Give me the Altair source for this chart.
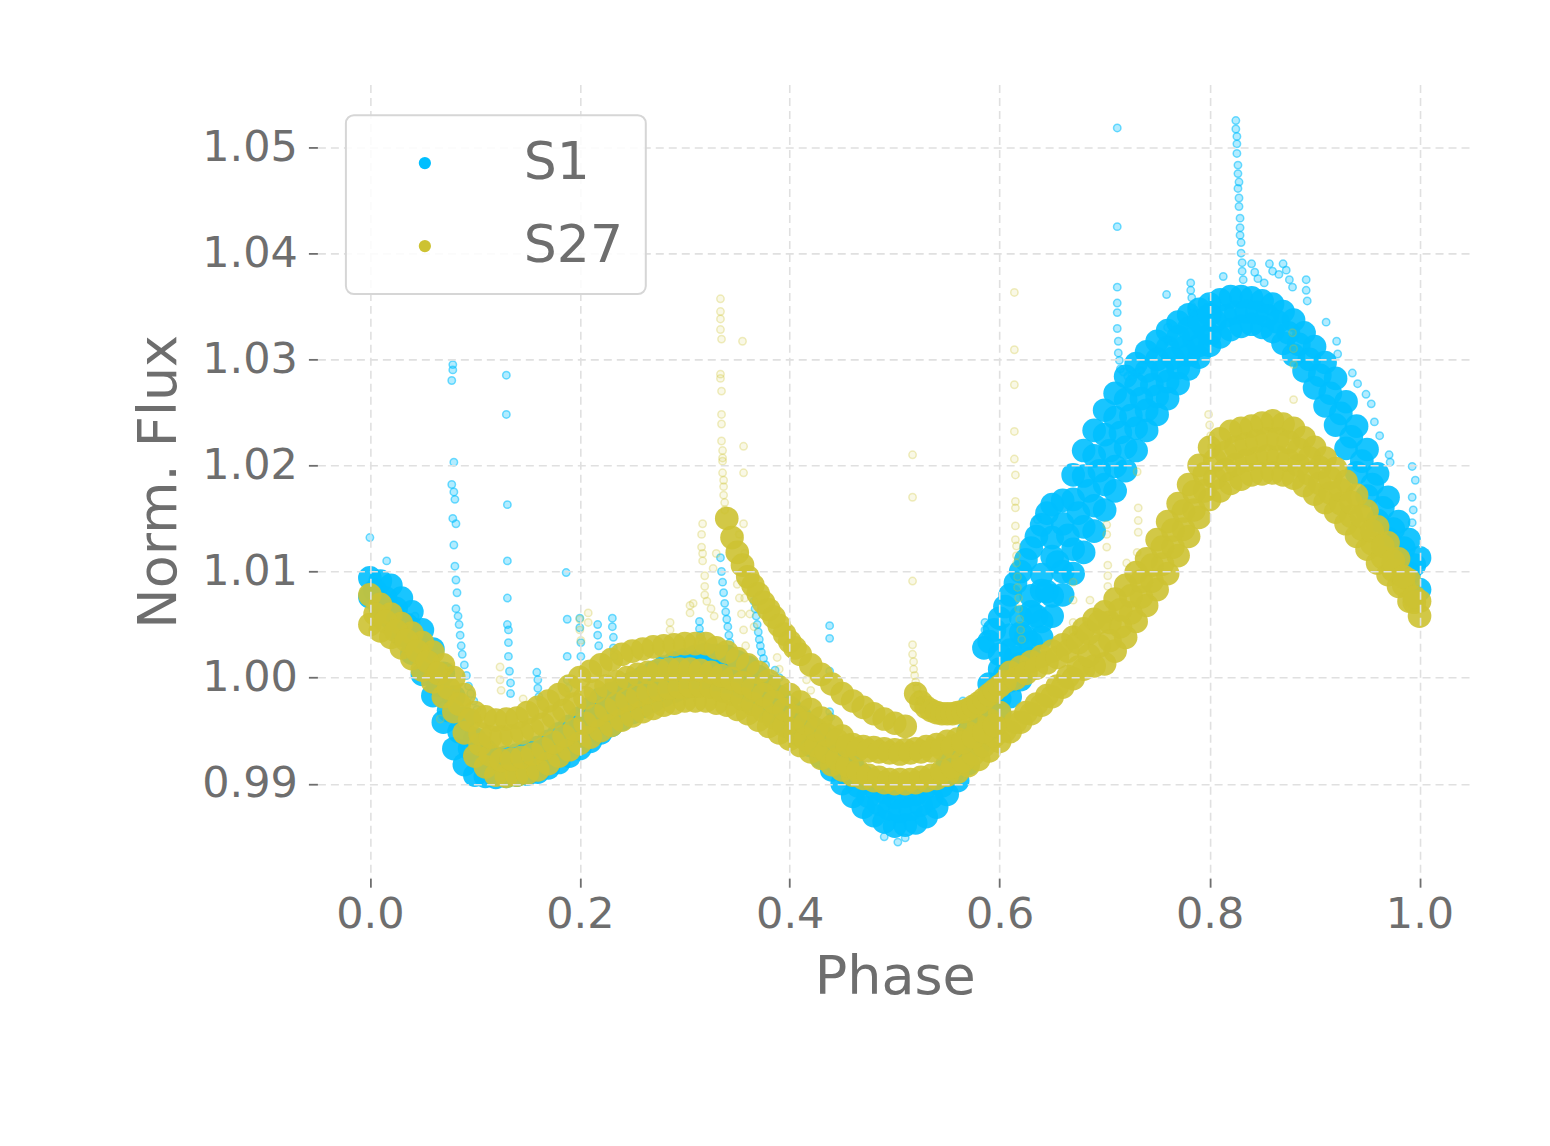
import altair as alt
import pandas as pd

# ---------------- phase sampling (typed) ----------------
grid = [0.00, 0.01, 0.02, 0.03, 0.04, 0.05, 0.06, 0.07, 0.08, 0.09,
        0.10, 0.11, 0.12, 0.13, 0.14, 0.15, 0.16, 0.17, 0.18, 0.19,
        0.20, 0.21, 0.22, 0.23, 0.24, 0.25, 0.26, 0.27, 0.28, 0.29,
        0.30, 0.31, 0.32, 0.33, 0.34, 0.35, 0.36, 0.37, 0.38, 0.39,
        0.40, 0.41, 0.42, 0.43, 0.44, 0.45, 0.46, 0.47, 0.48, 0.49,
        0.50, 0.51, 0.52, 0.53, 0.54, 0.55, 0.56, 0.57, 0.58, 0.59,
        0.60, 0.61, 0.62, 0.63, 0.64, 0.65, 0.66, 0.67, 0.68, 0.69,
        0.70, 0.71, 0.72, 0.73, 0.74, 0.75, 0.76, 0.77, 0.78, 0.79,
        0.80, 0.81, 0.82, 0.83, 0.84, 0.85, 0.86, 0.87, 0.88, 0.89,
        0.90, 0.91, 0.92, 0.93, 0.94, 0.95, 0.96, 0.97, 0.98, 0.99,
        1.00]
half = [0.005, 0.015, 0.025, 0.035, 0.045, 0.055, 0.065, 0.075, 0.085, 0.095,
        0.105, 0.115, 0.125, 0.135, 0.145, 0.155, 0.165, 0.175, 0.185, 0.195,
        0.205, 0.215, 0.225, 0.235, 0.245, 0.255, 0.265, 0.275, 0.285, 0.295,
        0.305, 0.315, 0.325, 0.335, 0.345, 0.355, 0.365, 0.375, 0.385, 0.395,
        0.405, 0.415, 0.425, 0.435, 0.445, 0.455, 0.465, 0.475, 0.485, 0.495,
        0.505, 0.515, 0.525, 0.535, 0.545, 0.555, 0.565, 0.575, 0.585, 0.595,
        0.605, 0.615, 0.625, 0.635, 0.645, 0.655, 0.665, 0.675, 0.685, 0.695,
        0.705, 0.715, 0.725, 0.735, 0.745, 0.755, 0.765, 0.775, 0.785, 0.795,
        0.805, 0.815, 0.825, 0.835, 0.845, 0.855, 0.865, 0.875, 0.885, 0.895,
        0.905, 0.915, 0.925, 0.935, 0.945, 0.955, 0.965, 0.975, 0.985, 0.995]

# ---------------- S1 dense band ----------------
s1_lo = [1.0076, 1.0066, 1.0056, 1.0040, 1.0023, 1.0003, 0.9983, 0.9958, 0.9933, 0.9918,
         0.9908, 0.9907, 0.9906, 0.9907, 0.9908, 0.9909, 0.9911, 0.9915, 0.9920, 0.9926,
         0.9933, 0.9940, 0.9948, 0.9955, 0.9961, 0.9967, 0.9973, 0.9978, 0.9983, 0.9987,
         0.9990, 0.9992, 0.9993, 0.9992, 0.9990, 0.9987, 0.9983, 0.9976, 0.9968, 0.9961,
         0.9953, 0.9945, 0.9936, 0.9925, 0.9913, 0.9900, 0.9888, 0.9878, 0.9870, 0.9864,
         0.9860, 0.9861, 0.9863, 0.9869, 0.9878, 0.9890, 0.9903, 0.9919, 0.9936, 0.9951,
         0.9966, 0.9982, 0.9998, 1.0018, 1.0038, 1.0058, 1.0078, 1.0098, 1.0118, 1.0138,
         1.0158, 1.0176, 1.0195, 1.0214, 1.0233, 1.0248, 1.0263, 1.0277, 1.0291, 1.0302,
         1.0313, 1.0321, 1.0328, 1.0331, 1.0333, 1.0330, 1.0326, 1.0315, 1.0304, 1.0289,
         1.0273, 1.0256, 1.0238, 1.0216, 1.0193, 1.0171, 1.0148, 1.0131, 1.0113, 1.0098,
         1.0083]
s1_hi = [1.0094, 1.0091, 1.0087, 1.0075, 1.0062, 1.0045, 1.0027, 1.0004, 0.9982, 0.9962,
         0.9942, 0.9932, 0.9924, 0.9925, 0.9927, 0.9930, 0.9934, 0.9940, 0.9947, 0.9954,
         0.9962, 0.9971, 0.9980, 0.9985, 0.9990, 0.9995, 1.0000, 1.0005, 1.0010, 1.0014,
         1.0017, 1.0020, 1.0022, 1.0021, 1.0020, 1.0015, 1.0010, 1.0001, 0.9992, 0.9982,
         0.9972, 0.9963, 0.9954, 0.9946, 0.9937, 0.9927, 0.9917, 0.9907, 0.9897, 0.9892,
         0.9887, 0.9888, 0.9890, 0.9897, 0.9904, 0.9918, 0.9932, 0.9949, 0.9967, 0.9994,
         1.0022, 1.0040, 1.0057, 1.0077, 1.0097, 1.0132, 1.0167, 1.0191, 1.0214, 1.0233,
         1.0252, 1.0268, 1.0284, 1.0296, 1.0307, 1.0317, 1.0327, 1.0335, 1.0342, 1.0347,
         1.0352, 1.0356, 1.0359, 1.0359, 1.0358, 1.0355, 1.0352, 1.0345, 1.0337, 1.0325,
         1.0312, 1.0297, 1.0282, 1.0260, 1.0237, 1.0215, 1.0192, 1.0170, 1.0147, 1.0130,
         1.0113]
s1_mid = [1.0082, 1.0075, 1.0065, 1.0050, 1.0033, 1.0015, 0.9993, 0.9969, 0.9949, 0.9933,
          0.9922, 0.9917, 0.9916, 0.9917, 0.9919, 0.9921, 0.9925, 0.9931, 0.9937, 0.9944,
          0.9952, 0.9960, 0.9967, 0.9973, 0.9978, 0.9984, 0.9989, 0.9994, 0.9999, 1.0002,
          1.0005, 1.0007, 1.0007, 1.0006, 1.0003, 0.9999, 0.9993, 0.9984, 0.9976, 0.9967,
          0.9958, 0.9950, 0.9940, 0.9930, 0.9919, 0.9908, 0.9898, 0.9888, 0.9881, 0.9876,
          0.9874, 0.9876, 0.9880, 0.9887, 0.9898, 0.9911, 0.9926, 0.9943, 0.9962, 0.9983,
          1.0003, 1.0019, 1.0038, 1.0058, 1.0081, 1.0109, 1.0134, 1.0155, 1.0176, 1.0195,
          1.0214, 1.0231, 1.0247, 1.0263, 1.0276, 1.0289, 1.0301, 1.0311, 1.0320, 1.0329,
          1.0336, 1.0341, 1.0344, 1.0345, 1.0344, 1.0341, 1.0335, 1.0325, 1.0314, 1.0300,
          1.0285, 1.0268, 1.0249, 1.0227, 1.0204, 1.0182, 1.0160, 1.0140, 1.0122, 1.0106]
# extra fill for the wide rising part, phases 0.60 .. 0.80
s1_q1 = [0.9980, 0.9997, 1.0013, 1.0033, 1.0053, 1.0077, 1.0100, 1.0121, 1.0142, 1.0162,
         1.0182, 1.0199, 1.0217, 1.0235, 1.0252, 1.0265, 1.0279, 1.0292, 1.0304, 1.0313,
         1.0323]
s1_q3 = [1.0008, 1.0026, 1.0042, 1.0062, 1.0082, 1.0114, 1.0145, 1.0168, 1.0190, 1.0209,
         1.0229, 1.0245, 1.0262, 1.0276, 1.0289, 1.0300, 1.0311, 1.0321, 1.0329, 1.0336,
         1.0342]
# upper-left branch of the rise
s1_ul_phase = [0.585, 0.590, 0.595, 0.600, 0.605, 0.610, 0.615, 0.620, 0.625, 0.630,
               0.635, 0.640, 0.645, 0.650]
s1_ul_flux = [1.0028, 1.0034, 1.0045, 1.0056, 1.0067, 1.0078, 1.0089, 1.0100, 1.0111, 1.0122,
              1.0133, 1.0144, 1.0155, 1.0163]

# ---------------- S1 sparse points (flares, outliers) ----------------
s1_scatter = [
    (0.000, 1.0132), (0.016, 1.0110), (0.043, 1.0058), (0.044, 1.0052), (0.045, 1.0043),
    (0.079, 1.0295), (0.079, 1.0290), (0.078, 1.0280), (0.080, 1.0203), (0.078, 1.0182),
    (0.080, 1.0175), (0.081, 1.0168), (0.079, 1.0150), (0.082, 1.0145), (0.080, 1.0125),
    (0.081, 1.0105), (0.082, 1.0092), (0.083, 1.0080), (0.082, 1.0065), (0.084, 1.0058),
    (0.085, 1.0050), (0.086, 1.0040), (0.087, 1.0030), (0.088, 1.0022), (0.090, 1.0012),
    (0.092, 1.0002), (0.094, 0.9992), (0.096, 0.9985), (0.099, 0.9978), (0.102, 0.9970),
    (0.130, 1.0285), (0.130, 1.0248), (0.131, 1.0163), (0.131, 1.0110), (0.131, 1.0075),
    (0.131, 1.0050), (0.132, 1.0045), (0.132, 1.0033), (0.132, 1.0020), (0.133, 1.0006),
    (0.134, 0.9995), (0.134, 0.9985),
    (0.159, 1.0005), (0.160, 0.9998), (0.160, 0.9990), (0.161, 0.9982),
    (0.187, 1.0099), (0.188, 1.0055), (0.188, 1.0020), (0.188, 0.9998), (0.189, 0.9990),
    (0.200, 1.0056), (0.200, 1.0047), (0.201, 1.0033), (0.201, 1.0020), (0.217, 1.0050),
    (0.217, 1.0040), (0.218, 1.0030), (0.231, 1.0056), (0.231, 1.0048), (0.232, 1.0038),
    (0.232, 1.0028), (0.233, 1.0020),
    (0.314, 1.0053), (0.314, 1.0046), (0.315, 1.0040), (0.316, 1.0032),
    (0.334, 1.0113), (0.335, 1.0100), (0.336, 1.0090), (0.337, 1.0080), (0.338, 1.0070),
    (0.339, 1.0062), (0.340, 1.0055), (0.341, 1.0048), (0.342, 1.0040), (0.343, 1.0033),
    (0.344, 1.0026), (0.345, 1.0020), (0.346, 1.0014),
    (0.366, 1.0072), (0.367, 1.0065), (0.368, 1.0058), (0.369, 1.0050), (0.370, 1.0043),
    (0.371, 1.0036), (0.372, 1.0030), (0.373, 1.0024), (0.375, 1.0018), (0.377, 1.0012),
    (0.386, 1.0007), (0.390, 1.0000),
    (0.438, 1.0049), (0.438, 1.0037), (0.438, 1.0006), (0.438, 0.9968), (0.439, 0.9963),
    (0.460, 0.9922), (0.476, 0.9939), (0.490, 0.9850), (0.503, 0.9845), (0.510, 0.9849),
    (0.565, 0.9978), (0.575, 0.9975), (0.586, 1.0052), (0.586, 1.0045), (0.587, 1.0040),
    (0.636, 1.0149),
    (0.712, 1.0518), (0.712, 1.0425), (0.712, 1.0368), (0.712, 1.0353), (0.712, 1.0344),
    (0.712, 1.0329), (0.713, 1.0317), (0.713, 1.0306), (0.714, 1.0299), (0.715, 1.0291),
    (0.718, 1.0288), (0.722, 1.0284), (0.726, 1.0285), (0.730, 1.0287), (0.734, 1.0289),
    (0.759, 1.0361), (0.760, 1.0330), (0.760, 1.0317), (0.782, 1.0372), (0.782, 1.0365),
    (0.783, 1.0358), (0.783, 1.0350), (0.784, 1.0343), (0.813, 1.0378),
    (0.825, 1.0525), (0.825, 1.0517), (0.826, 1.0510), (0.826, 1.0503), (0.826, 1.0494),
    (0.827, 1.0483), (0.827, 1.0475), (0.828, 1.0467), (0.827, 1.0461), (0.828, 1.0452),
    (0.828, 1.0444), (0.829, 1.0433), (0.829, 1.0424), (0.829, 1.0417), (0.830, 1.0410),
    (0.830, 1.0400), (0.831, 1.0391), (0.831, 1.0383), (0.832, 1.0375),
    (0.840, 1.0390), (0.843, 1.0382), (0.846, 1.0376), (0.852, 1.0372), (0.857, 1.0390),
    (0.860, 1.0383), (0.866, 1.0380), (0.870, 1.0390), (0.873, 1.0384), (0.876, 1.0375),
    (0.879, 1.0368), (0.892, 1.0375), (0.892, 1.0365), (0.893, 1.0355), (0.911, 1.0335),
    (0.921, 1.0317), (0.922, 1.0305), (0.936, 1.0287), (0.941, 1.0277), (0.949, 1.0267),
    (0.954, 1.0258), (0.957, 1.0241), (0.962, 1.0228), (0.971, 1.0210), (0.972, 1.0203),
    (0.993, 1.0199), (0.996, 1.0186), (0.993, 1.0170), (0.994, 1.0158), (0.993, 1.0146),
]

# ---------------- S27 dense band ----------------
s27_lo = [1.0050, 1.0044, 1.0038, 1.0028, 1.0018, 1.0007, 0.9996, 0.9982, 0.9968, 0.9948,
          0.9926, 0.9916, 0.9908, 0.9907, 0.9908, 0.9910, 0.9913, 0.9919, 0.9926, 0.9932,
          0.9938, 0.9944, 0.9950, 0.9955, 0.9960, 0.9964, 0.9968, 0.9971, 0.9974, 0.9976,
          0.9978, 0.9978, 0.9978, 0.9976, 0.9974, 0.9970, 0.9966, 0.9960, 0.9954, 0.9948,
          0.9942, 0.9936, 0.9930, 0.9924, 0.9918, 0.9913, 0.9908, 0.9905, 0.9903, 0.9901,
          0.9900, 0.9900, 0.9901, 0.9903, 0.9905, 0.9908, 0.9911, 0.9917, 0.9923, 0.9931,
          0.9940, 0.9949, 0.9958, 0.9966, 0.9974, 0.9982, 0.9991, 0.9999, 1.0008, 1.0011,
          1.0013, 1.0025, 1.0038, 1.0053, 1.0068, 1.0083, 1.0098, 1.0115, 1.0133, 1.0151,
          1.0168, 1.0176, 1.0183, 1.0187, 1.0191, 1.0192, 1.0193, 1.0191, 1.0188, 1.0181,
          1.0173, 1.0165, 1.0156, 1.0145, 1.0133, 1.0121, 1.0108, 1.0097, 1.0086, 1.0072,
          1.0058]
s27_hi = [1.0078, 1.0069, 1.0060, 1.0051, 1.0042, 1.0033, 1.0024, 1.0012, 1.0000, 0.9984,
          0.9967, 0.9963, 0.9960, 0.9961, 0.9962, 0.9967, 0.9972, 0.9978, 0.9984, 0.9992,
          1.0000, 1.0006, 1.0012, 1.0017, 1.0022, 1.0025, 1.0027, 1.0029, 1.0030, 1.0031,
          1.0032, 1.0032, 1.0032, 1.0028, 1.0024, 1.0018, 1.0012, 1.0005, 0.9997, 0.9991,
          0.9984, 0.9977, 0.9970, 0.9962, 0.9954, 0.9945, 0.9937, 0.9935, 0.9934, 0.9933,
          0.9932, 0.9932, 0.9933, 0.9935, 0.9937, 0.9940, 0.9942, 0.9948, 0.9954, 0.9960,
          0.9967, 1.0005, 1.0010, 1.0015, 1.0020, 1.0025, 1.0031, 1.0038, 1.0046, 1.0055,
          1.0062, 1.0074, 1.0087, 1.0099, 1.0112, 1.0130, 1.0147, 1.0164, 1.0182, 1.0200,
          1.0217, 1.0225, 1.0232, 1.0235, 1.0237, 1.0240, 1.0242, 1.0239, 1.0235, 1.0226,
          1.0217, 1.0207, 1.0197, 1.0185, 1.0172, 1.0157, 1.0142, 1.0127, 1.0112, 1.0092,
          1.0072]
s27_mid = [1.0060, 1.0053, 1.0044, 1.0035, 1.0025, 1.0015, 1.0004, 0.9990, 0.9975, 0.9960,
           0.9937, 0.9927, 0.9922, 0.9923, 0.9925, 0.9928, 0.9933, 0.9939, 0.9945, 0.9951,
           0.9957, 0.9964, 0.9970, 0.9975, 0.9979, 0.9983, 0.9986, 0.9989, 0.9990, 0.9991,
           0.9992, 0.9992, 0.9991, 0.9988, 0.9985, 0.9980, 0.9975, 0.9969, 0.9962, 0.9955,
           0.9949, 0.9942, 0.9936, 0.9930, 0.9923, 0.9917, 0.9912, 0.9908, 0.9906, 0.9904,
           0.9904, 0.9904, 0.9906, 0.9908, 0.9912, 0.9916, 0.9921, 0.9928, 0.9936, 0.9945,
           0.9950, 0.9958, 0.9967, 0.9975, 0.9983, 0.9992, 1.0001, 1.0010, 1.0021, 1.0030,
           1.0035, 1.0048, 1.0061, 1.0076, 1.0091, 1.0107, 1.0123, 1.0140, 1.0158, 1.0176,
           1.0188, 1.0196, 1.0201, 1.0205, 1.0207, 1.0209, 1.0208, 1.0205, 1.0200, 1.0192,
           1.0183, 1.0174, 1.0164, 1.0152, 1.0140, 1.0126, 1.0113, 1.0101, 1.0087, 1.0071]
# lower edge of the upper sub-band, phases 0.105 .. 0.595
s27_upper_lo = [0.9947, 0.9944, 0.9944, 0.9945, 0.9948, 0.9951, 0.9956, 0.9963, 0.9969, 0.9975,
                0.9981, 0.9987, 0.9992, 0.9996, 1.0000, 1.0003, 1.0005, 1.0007, 1.0008, 1.0008,
                1.0008, 1.0007, 1.0005, 1.0002, 0.9999, 0.9995, 0.9990, 0.9984, 0.9977, 0.9970,
                0.9963, 0.9957, 0.9951, 0.9946, 0.9941, 0.9936, 0.9932, 0.9931, 0.9930, 0.9929,
                0.9928, 0.9929, 0.9930, 0.9931, 0.9933, 0.9935, 0.9939, 0.9944, 0.9949, 0.9955]
# upper inner track of the merged band, phases 0.705 .. 0.995
s27_merged_hi = [1.0052, 1.0064, 1.0077, 1.0091, 1.0106, 1.0123, 1.0139, 1.0157, 1.0175, 1.0192,
                 1.0205, 1.0212, 1.0217, 1.0220, 1.0223, 1.0225, 1.0225, 1.0222, 1.0215, 1.0207,
                 1.0198, 1.0188, 1.0177, 1.0165, 1.0152, 1.0138, 1.0124, 1.0110, 1.0095, 1.0076]
# decay of the flare near phase 0.335
s27_f1_phase = [0.340, 0.345, 0.350, 0.355, 0.360, 0.365, 0.370, 0.375, 0.380, 0.385,
                0.390, 0.395, 0.400, 0.405, 0.410, 0.420, 0.430, 0.440, 0.450, 0.460,
                0.470, 0.480, 0.490, 0.500, 0.510]
s27_f1_flux = [1.0150, 1.0132, 1.0118, 1.0106, 1.0095, 1.0087, 1.0079, 1.0071, 1.0064, 1.0057,
               1.0049, 1.0041, 1.0034, 1.0028, 1.0022, 1.0012, 1.0003, 0.9994, 0.9985, 0.9978,
               0.9972, 0.9966, 0.9961, 0.9957, 0.9954]
# decay of the flare near phase 0.515, continuing as the flat upper branch
s27_f2_phase = [0.520, 0.525, 0.530, 0.535, 0.540, 0.545, 0.550, 0.555, 0.560, 0.565,
                0.570, 0.575, 0.580, 0.585, 0.590, 0.595, 0.600, 0.605, 0.615, 0.625,
                0.635, 0.645, 0.655, 0.665, 0.675, 0.685, 0.695]
s27_f2_flux = [0.9985, 0.9977, 0.9972, 0.9969, 0.9967, 0.9966, 0.9966, 0.9966, 0.9967, 0.9968,
               0.9970, 0.9973, 0.9976, 0.9980, 0.9984, 0.9988, 0.9992, 0.9996, 0.9999, 1.0004,
               1.0009, 1.0014, 1.0019, 1.0025, 1.0033, 1.0042, 1.0052]

# ---------------- S27 sparse points ----------------
s27_scatter = [
    (0.067, 0.9961), (0.076, 1.0010), (0.077, 1.0002), (0.124, 1.0010), (0.124, 0.9998),
    (0.125, 0.9988), (0.146, 0.9980), (0.200, 1.0055), (0.200, 1.0045), (0.201, 1.0035),
    (0.208, 1.0061), (0.208, 1.0052), (0.286, 1.0052), (0.286, 1.0045), (0.305, 1.0068),
    (0.305, 1.0061), (0.308, 1.0070),
    (0.317, 1.0145), (0.316, 1.0135), (0.316, 1.0123), (0.317, 1.0117), (0.317, 1.0110),
    (0.319, 1.0096), (0.319, 1.0086), (0.319, 1.0078), (0.321, 1.0072), (0.325, 1.0065),
    (0.328, 1.0058), (0.330, 1.0117), (0.327, 1.0103),
    (0.334, 1.0357), (0.334, 1.0345), (0.334, 1.0338), (0.334, 1.0328), (0.335, 1.0319),
    (0.334, 1.0286), (0.334, 1.0282), (0.335, 1.0270), (0.335, 1.0248), (0.335, 1.0239),
    (0.335, 1.0223), (0.336, 1.0214), (0.336, 1.0207), (0.336, 1.0204), (0.336, 1.0193),
    (0.337, 1.0186), (0.337, 1.0180), (0.337, 1.0172), (0.338, 1.0165), (0.338, 1.0158),
    (0.355, 1.0317), (0.356, 1.0218), (0.356, 1.0193), (0.356, 1.0145), (0.352, 1.0135),
    (0.357, 1.0117), (0.350, 1.0088), (0.352, 1.0075), (0.354, 1.0060), (0.356, 1.0045),
    (0.358, 1.0030), (0.357, 1.0075), (0.362, 1.0060), (0.366, 1.0048), (0.388, 1.0019),
    (0.390, 1.0008), (0.416, 0.9998), (0.420, 0.9988),
    (0.517, 1.0210), (0.517, 1.0170), (0.517, 1.0091), (0.517, 1.0031), (0.517, 1.0022),
    (0.518, 1.0015), (0.518, 1.0008), (0.519, 1.0002), (0.520, 0.9996), (0.521, 0.9990),
    (0.522, 0.9984), (0.524, 0.9978),
    (0.614, 1.0363), (0.614, 1.0309), (0.614, 1.0276), (0.614, 1.0232), (0.614, 1.0206),
    (0.615, 1.0191), (0.615, 1.0166), (0.615, 1.0160), (0.615, 1.0143), (0.615, 1.0130),
    (0.616, 1.0124), (0.616, 1.0115), (0.616, 1.0108), (0.617, 1.0095), (0.617, 1.0085),
    (0.618, 1.0075), (0.618, 1.0065), (0.619, 1.0055), (0.620, 1.0045), (0.621, 1.0036),
    (0.670, 1.0090), (0.670, 1.0073), (0.686, 1.0073), (0.670, 1.0052), (0.670, 1.0044),
    (0.702, 1.0144), (0.702, 1.0135), (0.702, 1.0123), (0.703, 1.0106), (0.703, 1.0096),
    (0.703, 1.0086), (0.721, 1.0108), (0.731, 1.0194), (0.732, 1.0160), (0.732, 1.0148),
    (0.732, 1.0137), (0.731, 1.0118), (0.799, 1.0248), (0.800, 1.0238), (0.801, 1.0228),
    (0.802, 1.0218), (0.879, 1.0325), (0.880, 1.0310), (0.880, 1.0295), (0.880, 1.0262),
]

# ---------------- build tables ----------------
def rows(phases, fluxes, series):
    return [{"phase": p, "flux": f, "series": series} for p, f in zip(phases, fluxes)]

band_s1 = pd.DataFrame(
    rows(grid, s1_lo, "S1") + rows(grid, s1_hi, "S1") + rows(half, s1_mid, "S1")
    + rows(grid[60:81], s1_q1, "S1") + rows(grid[60:81], s1_q3, "S1")
    + rows(s1_ul_phase, s1_ul_flux, "S1")
)
band_s27 = pd.DataFrame(
    rows(grid, s27_lo, "S27") + rows(grid, s27_hi, "S27") + rows(half, s27_mid, "S27")
    + rows(half[10:60], s27_upper_lo, "S27") + rows(half[70:100], s27_merged_hi, "S27")
    + rows(s27_f1_phase, s27_f1_flux, "S27") + rows(s27_f2_phase, s27_f2_flux, "S27")
)
sparse_s1 = pd.DataFrame(rows([p for p, _ in s1_scatter], [f for _, f in s1_scatter], "S1"))
sparse_s27 = pd.DataFrame(rows([p for p, _ in s27_scatter], [f for _, f in s27_scatter], "S27"))

BLUE = "#00bfff"
OLIVE = "#cdc232"
GRAY = "#6e6e6e"

x_enc = alt.X(
    "phase:Q",
    scale=alt.Scale(domain=[-0.05, 1.05], nice=False, zero=False),
    axis=alt.Axis(values=[0.0, 0.2, 0.4, 0.6, 0.8, 1.0], format=".1f", title="Phase",
                  zindex=1),
)
y_enc = alt.Y(
    "flux:Q",
    scale=alt.Scale(domain=[0.9811, 1.0559], nice=False, zero=False),
    axis=alt.Axis(values=[0.99, 1.00, 1.01, 1.02, 1.03, 1.04, 1.05], format=".2f",
                  title="Norm. Flux", zindex=1),
)
color_scale = alt.Scale(domain=["S1", "S27"], range=[BLUE, OLIVE])
legend = alt.Legend(
    title=None, orient="none", legendX=28.5, legendY=30.7,
    padding=22, symbolOffset=31, labelOffset=73, rowPadding=31,
    symbolType="circle", symbolSize=150, symbolOpacity=1, symbolStrokeWidth=0,
    labelFontSize=52, labelColor=GRAY, labelFont="DejaVu Sans",
    strokeColor="#d6d6d6", fillColor="rgba(255,255,255,0.85)", cornerRadius=8,
    zindex=2,
)
color_enc = alt.Color("series:N", scale=color_scale, legend=legend)

band_blue = alt.Chart(band_s1).mark_circle(size=560, opacity=0.9).encode(
    x=x_enc, y=y_enc, color=color_enc)
dots_blue = alt.Chart(sparse_s1).mark_point(
    shape="circle", size=55, fill=BLUE, stroke=BLUE, fillOpacity=0.3,
    strokeOpacity=0.55, strokeWidth=1.5).encode(x=x_enc, y=y_enc)
band_olive = alt.Chart(band_s27).mark_circle(size=560, opacity=0.9).encode(
    x=x_enc, y=y_enc, color=color_enc)
dots_olive = alt.Chart(sparse_s27).mark_point(
    shape="circle", size=55, fill=OLIVE, stroke=OLIVE, fillOpacity=0.12,
    strokeOpacity=0.3, strokeWidth=1.5).encode(x=x_enc, y=y_enc)

chart = (
    alt.layer(band_blue, dots_blue, band_olive, dots_olive)
    .properties(
        width=1155, height=794,
        padding={"left": 309.5, "top": 76.3, "right": 70, "bottom": 200},
        autosize=alt.AutoSizeParams(type="none"),
        background="white",
    )
    .configure_view(stroke=None)
    .configure_axis(
        labelFont="DejaVu Sans", titleFont="DejaVu Sans",
        labelFontSize=43, titleFontSize=54, labelColor=GRAY, titleColor=GRAY,
        titleFontWeight="normal", domain=False, tickColor=GRAY, tickSize=9,
        tickWidth=1.8, gridColor="#e0e0e0", gridDash=[8, 5], gridWidth=1.6,
    )
    .configure_axisX(labelPadding=6, titlePadding=14)
    .configure_axisY(labelPadding=11, titlePadding=15)
    .configure_legend(strokeWidth=2)
)

chart.save("out.html", embed_options={"renderer": "svg", "actions": False})
